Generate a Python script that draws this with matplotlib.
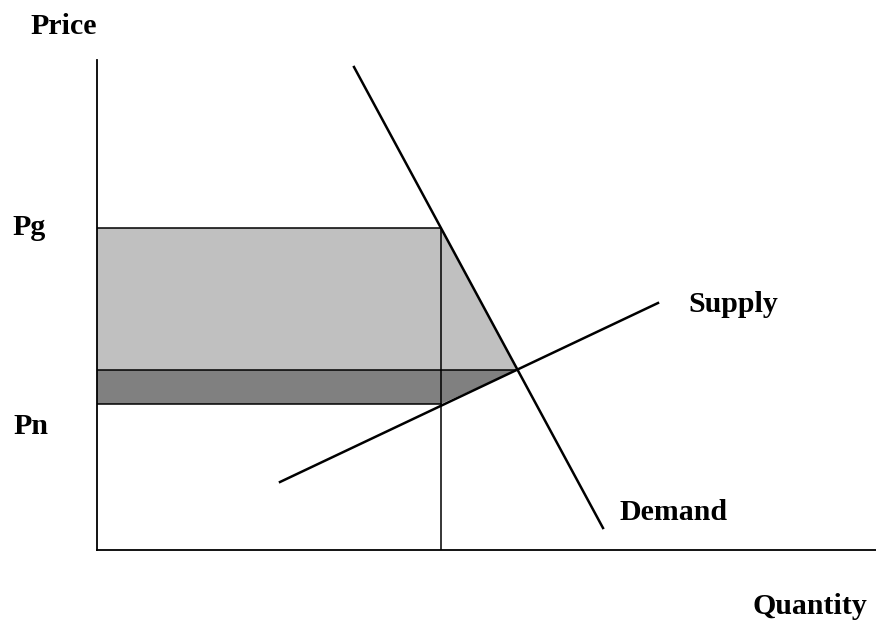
import matplotlib
matplotlib.use("Agg")
import matplotlib.pyplot as plt
import numpy as np

# Data (quantity / price units, origin at axes corner)
demand_q = [257, 506]
demand_p = [483, 22]
supply_q = [183, 561]
supply_p = [68, 247]
q_g = 344          # quantity at the regulated price
p_g = 322          # Pg
p_n = 146          # Pn
eq_q = 420         # equilibrium
eq_p = 180

W, H = 876, 623
fig = plt.figure(figsize=(W / 100, H / 100), dpi=100)
ax = fig.add_axes([97 / W, (H - 550) / H, (876 - 97) / W, (550 - 60) / H])
ax.set_xlim(0, 779)
ax.set_ylim(0, 490)
ax.axis("off")

light = "#c0c0c0"
dark = "#808080"

# light gray region
ax.fill([0, q_g, eq_q, 0], [p_g, p_g, eq_p, eq_p], color=light, lw=0, zorder=1)
# dark band
ax.fill([0, eq_q, q_g, 0], [eq_p, eq_p, p_n, p_n], color=dark, lw=0, zorder=1)

# outlines
ax.plot([0, q_g], [p_g, p_g], color="black", lw=1.1, zorder=2)
ax.plot([0, eq_q], [eq_p, eq_p], color="black", lw=1.1, zorder=2)
ax.plot([0, q_g], [p_n, p_n], color="black", lw=1.1, zorder=2)
ax.plot([q_g, q_g], [0, p_g], color="black", lw=1.1, zorder=2)

# axes lines
ax.plot([0, 0], [0, 490], color="black", lw=1.3, zorder=3, clip_on=False)
ax.plot([0, 779], [0, 0], color="black", lw=1.3, zorder=3, clip_on=False)

# curves
ax.plot(demand_q, demand_p, color="black", lw=1.8, zorder=4)
ax.plot(supply_q, supply_p, color="black", lw=1.8, zorder=4)

fp = dict(family="Liberation Serif", fontweight="bold", fontsize=21.5)

def ftext(x, y, s, ha="left"):
    fig.text(x / W, 1 - y / H, s, ha=ha, va="center", **fp)

ftext(30, 27, "Price")
ftext(12, 227, "Pg")
ftext(13, 426, "Pn")
ftext(688, 305, "Supply")
ftext(620, 512, "Demand")
ftext(752, 607, "Quantity")

fig.savefig("out.png", dpi=100)
